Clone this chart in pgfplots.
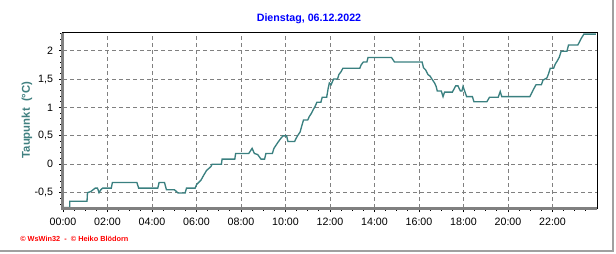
\documentclass[border=0pt]{standalone}
\usepackage{fontspec}
\setmainfont{Liberation Sans}
\usepackage{pgfplots}
\pgfplotsset{compat=1.18}
\definecolor{linecol}{RGB}{58,128,128}
\definecolor{labcol}{RGB}{64,128,128}
\definecolor{gridcol}{RGB}{128,128,128}
\definecolor{framecol}{RGB}{160,160,160}
\begin{document}
\begin{tikzpicture}
\useasboundingbox (0,0) rectangle (462pt,189.75pt);
\fill[white] (0,0) rectangle (462pt,189.75pt);
\begin{axis}[
  at={(47.25pt,33.75pt)}, anchor=south west,
  scale only axis, width=400.5pt, height=131.25pt,
  xmin=0, xmax=24, ymin=-0.77, ymax=2.31,
  xtick={0,2,...,22},
  xticklabels={00:00,02:00,04:00,06:00,08:00,10:00,12:00,14:00,16:00,18:00,20:00,22:00},
  minor xtick={0.5,1,...,23.5},
  ytick={-0.5,0,0.5,1,1.5,2},
  yticklabels={{-0,5},0,{0,5},1,{1,5},2},
  minor ytick={-0.7,-0.6,...,2.31},
  tick pos=left, tick align=outside,
  major tick length=3pt, minor tick length=2pt,
  tick style={black, line width=0.6pt},
  grid=major,
  major grid style={gridcol, line width=0.75pt, dash pattern=on 3pt off 2.25pt},
  axis line style={black, line width=0.75pt},
  ticklabel style={font=\fontsize{8}{9}\selectfont, black},
  xticklabel style={yshift=-1pt},
  yticklabel style={xshift=-1pt},
  clip=false,
]
\addplot[linecol, line width=1pt] coordinates {
(0.00,-0.76) (0.30,-0.76) (0.30,-0.65) (1.08,-0.65) (1.10,-0.50) (1.25,-0.48)
(1.35,-0.45) (1.45,-0.42) (1.55,-0.42) (1.62,-0.50) (1.70,-0.45) (1.78,-0.42)
(2.17,-0.42) (2.22,-0.32) (3.32,-0.32) (3.40,-0.42) (4.26,-0.42) (4.32,-0.32)
(4.56,-0.32) (4.65,-0.45) (5.01,-0.45) (5.10,-0.48) (5.17,-0.505) (5.49,-0.505)
(5.55,-0.42) (5.94,-0.42) (6.00,-0.36) (6.10,-0.32) (6.20,-0.28) (6.30,-0.21)
(6.45,-0.11) (6.65,-0.04) (6.70,0.00) (7.12,0.00) (7.15,0.09) (7.72,0.09)
(7.76,0.19) (8.35,0.19) (8.50,0.28) (8.60,0.19) (8.75,0.17) (8.90,0.09)
(9.06,0.09) (9.12,0.19) (9.41,0.19) (9.48,0.28) (9.65,0.38) (9.80,0.46)
(9.89,0.50) (10.05,0.50) (10.11,0.40) (10.41,0.40) (10.47,0.45) (10.54,0.50)
(10.66,0.57) (10.72,0.66) (10.81,0.78) (11.00,0.78) (11.07,0.84) (11.17,0.90)
(11.26,0.97) (11.32,1.01) (11.41,1.09) (11.59,1.09) (11.65,1.18) (11.85,1.18)
(11.92,1.34) (11.97,1.43) (12.05,1.40) (12.16,1.50) (12.34,1.50) (12.40,1.58)
(12.50,1.63) (12.58,1.69) (13.34,1.69) (13.40,1.75) (13.50,1.80) (13.66,1.80)
(13.71,1.88) (14.76,1.88) (14.90,1.80) (16.14,1.80) (16.20,1.70) (16.30,1.66)
(16.40,1.58) (16.50,1.55) (16.58,1.50) (16.70,1.43) (16.77,1.37) (16.82,1.29)
(17.00,1.29) (17.08,1.19) (17.15,1.27) (17.50,1.27) (17.65,1.38) (17.75,1.38)
(17.86,1.29) (17.93,1.29) (17.98,1.37) (18.05,1.29) (18.14,1.19) (18.40,1.19)
(18.47,1.10) (19.05,1.10) (19.17,1.18) (19.56,1.18) (19.65,1.28) (19.72,1.19)
(20.98,1.19) (21.06,1.25) (21.12,1.30) (21.26,1.40) (21.50,1.40) (21.57,1.48)
(21.75,1.52) (21.82,1.59) (21.90,1.69) (22.05,1.69) (22.12,1.76) (22.20,1.81)
(22.30,1.88) (22.39,1.99) (22.65,1.99) (22.72,2.10) (23.14,2.10) (23.22,2.16)
(23.30,2.22) (23.41,2.29) (23.95,2.29)
};
\draw[gridcol, line width=2.25pt] (rel axis cs:0,1) -- (rel axis cs:0,0) -- (rel axis cs:1,0);
\end{axis}
\node[font=\bfseries\fontsize{8}{9}\selectfont, text=blue] at (231.75pt,175.5pt) {Dienstag, 06.12.2022};
\node[font=\bfseries\fontsize{8.5}{10}\selectfont, text=labcol, rotate=90] at (20.25pt,99.75pt) {Taupunkt\ \ (°C)};
\node[font=\bfseries\fontsize{5.5}{6.5}\selectfont, text=red, anchor=west, inner sep=0pt] at (15pt,10.5pt) {© WsWin32 \ -\ \ © Heiko Blödorn};
\draw[framecol, line width=1.5pt] (0,1.5pt) -- (459.75pt,1.5pt) -- (459.75pt,189.75pt);
\end{tikzpicture}
\end{document}
